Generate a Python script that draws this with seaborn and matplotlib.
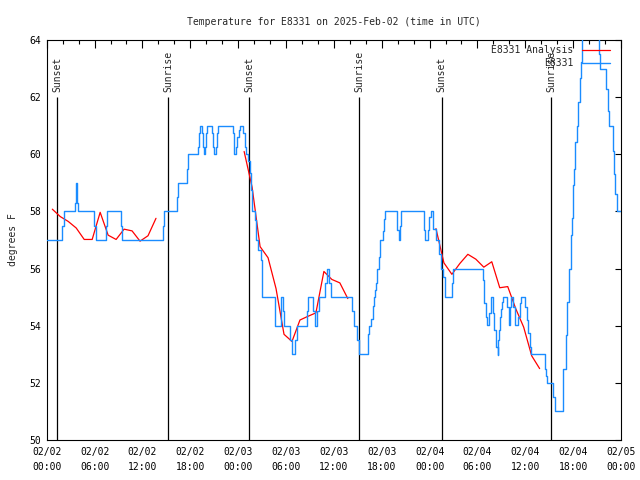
"""Recreate the E8331 temperature chart for 2025-Feb-02 (time in UTC)."""

import matplotlib

matplotlib.use("Agg")
import matplotlib.dates as mdates
import matplotlib.pyplot as plt
import pandas as pd
import seaborn as sns

START = pd.Timestamp("2025-02-02 00:00")
END = pd.Timestamp("2025-02-05 00:00")

# Station observations: hours after START, temperature (F), held until next point.
OBS_HOURS = [
    0.00, 1.96, 2.17, 3.51, 3.64, 3.84, 3.96, 5.93, 6.12, 7.40, 7.56, 9.28, 9.40,
    14.58, 14.74, 16.30, 16.50, 17.55, 17.75, 18.97, 19.09, 19.26, 19.47, 19.63,
    19.76, 19.85, 19.97, 20.06, 20.76, 20.89, 21.01, 21.23, 21.35, 21.51, 23.32,
    23.45, 23.52, 23.70, 23.90, 24.07, 24.23, 24.65, 24.86, 24.99, 25.28, 25.49,
    25.61, 25.78, 26.12, 26.24, 26.53, 26.83, 27.03, 28.62, 29.34, 29.59, 29.79,
    30.50, 30.72, 31.13, 31.38, 32.60, 32.80, 33.39, 33.58, 33.85, 34.08, 34.89,
    35.11, 35.39, 35.61, 38.31, 38.53, 38.84, 39.09, 40.32, 40.45, 40.70, 40.87,
    41.00, 41.12, 41.29, 41.41, 41.63, 41.83, 42.13, 42.33, 42.45, 43.92, 44.13,
    44.30, 44.46, 47.27, 47.47, 47.77, 47.89, 48.18, 48.43, 48.81, 49.22, 49.44,
    49.72, 49.94, 50.78, 50.90, 50.98, 54.74, 54.86, 55.04, 55.24, 55.49, 55.67,
    55.92, 56.08, 56.29, 56.54, 56.62, 56.75, 56.83, 56.96, 57.08, 57.25, 57.75,
    57.92, 58.09, 58.25, 58.50, 58.68, 59.13, 59.34, 59.50, 59.97, 60.18, 60.38,
    60.59, 60.72, 62.47, 62.57, 62.76, 63.51, 63.73, 64.77, 65.11, 65.27, 65.52,
    65.70, 65.90, 66.02, 66.15, 66.24, 66.45, 66.65, 66.86, 66.95, 67.08, 67.24,
    68.99, 69.28, 69.43, 70.08, 70.31, 70.54, 70.96, 71.13, 71.31, 71.46, 72.00,
]
OBS_TEMP = [
    57.0, 57.5, 58.0, 58.3, 59.0, 58.3, 58.0, 57.5, 57.0, 57.5, 58.0, 57.5, 57.0,
    57.5, 58.0, 58.5, 59.0, 59.5, 60.0, 60.27, 60.73, 61.0, 60.73, 60.27,
    60.0, 60.27, 60.73, 61.0, 60.73, 60.27, 60.0, 60.27, 60.73, 61.0, 60.73,
    60.27, 60.0, 60.27, 60.62, 60.85, 61.0, 60.73, 60.27, 60.0, 59.78, 59.33,
    58.75, 58.0, 57.7, 57.0, 56.65, 56.3, 55.0, 54.0, 55.0, 54.5, 54.0,
    53.5, 53.0, 53.5, 54.0, 54.5, 55.0, 54.5, 54.0, 54.5, 55.0, 55.5,
    56.0, 55.5, 55.0, 54.5, 54.0, 53.5, 53.0, 53.7, 54.0, 54.25, 54.7,
    55.0, 55.25, 55.5, 56.0, 56.4, 57.0, 57.3, 57.75, 58.0, 57.35, 57.0,
    57.5, 58.0, 57.35, 57.0, 57.35, 57.8, 58.0, 57.4, 57.0, 56.5, 56.0,
    55.7, 55.0, 55.5, 55.7, 56.0, 55.6, 54.78, 54.32, 54.02, 54.43, 55.0,
    54.43, 53.85, 53.27, 52.97, 53.5, 53.85, 54.32, 54.6, 54.84, 55.0, 54.67,
    54.02, 54.67, 55.0, 54.67, 54.02, 54.32, 54.78, 55.0, 54.67, 54.2, 53.73,
    53.27, 53.0, 52.5, 52.25, 52.0, 51.5, 51.0, 52.5, 53.67, 54.84, 56.0,
    57.17, 57.77, 58.93, 59.5, 60.44, 61.0, 61.84, 62.66, 63.24, 64.5, 65.0,
    64.5, 63.5, 63.0, 62.3, 61.5, 61.0, 60.1, 59.3, 58.6, 58.0, 58.0,
]

# Hourly analysis values, three separate runs.
ANALYSIS_HOURS_1 = [0.7, 1.7, 2.7, 3.7, 4.7, 5.7, 6.7, 7.7, 8.7, 9.7, 10.7, 11.7, 12.7, 13.7]
ANALYSIS_TEMP_1 = [58.08, 57.82, 57.65, 57.42, 57.02, 57.02, 57.97, 57.17, 57.02, 57.38, 57.32, 56.96, 57.15, 57.76]
ANALYSIS_HOURS_2 = [24.75, 25.75, 26.75, 27.75, 28.75, 29.75, 30.75, 31.75, 32.75, 33.75, 34.75, 35.75, 36.75, 37.75]
ANALYSIS_TEMP_2 = [60.1, 58.85, 56.77, 56.38, 55.3, 53.7, 53.45, 54.2, 54.33, 54.45, 55.9, 55.62, 55.5, 54.95]
ANALYSIS_HOURS_3 = [48.8, 49.8, 50.8, 51.8, 52.8, 53.8, 54.8, 55.8, 56.8, 57.8, 58.8, 59.8, 60.8, 61.8]
ANALYSIS_TEMP_3 = [57.4, 56.2, 55.8, 56.18, 56.5, 56.33, 56.05, 56.24, 55.33, 55.37, 54.6, 53.95, 52.95, 52.5]

SUNSET_HOURS = [1.33, 25.40, 49.52]
SUNRISE_HOURS = [15.25, 39.19, 63.23]

Y_MIN, Y_MAX = 50, 64
FONT = ["DejaVu Sans Mono"]
BLUE = "#1a8cff"
RED = "#ff0000"


def to_time(hours):
    """Convert hour offsets from START into timestamps."""
    return START + pd.to_timedelta(pd.Series(hours, dtype=float), unit="h")


def build_frames():
    """Return the observation and analysis data frames."""
    obs = pd.DataFrame({"time": to_time(OBS_HOURS), "temp": OBS_TEMP})
    parts = []
    for seg, (hours, temps) in enumerate(
        [
            (ANALYSIS_HOURS_1, ANALYSIS_TEMP_1),
            (ANALYSIS_HOURS_2, ANALYSIS_TEMP_2),
            (ANALYSIS_HOURS_3, ANALYSIS_TEMP_3),
        ]
    ):
        parts.append(pd.DataFrame({"time": to_time(hours), "temp": temps, "seg": seg}))
    return obs, pd.concat(parts, ignore_index=True)


def main():
    sns.set_style("white")
    plt.rcParams["font.family"] = FONT
    plt.rcParams["font.size"] = 7

    obs, analysis = build_frames()

    fig = plt.figure(figsize=(6.4, 4.8), dpi=100)
    ax = fig.add_axes([0.073, 0.0833, 0.8973, 0.8333])

    for label, hours in (("Sunset", SUNSET_HOURS), ("Sunrise", SUNRISE_HOURS)):
        for t in to_time(hours):
            ax.vlines(t, Y_MIN, 62.0, color="black", linewidth=0.9, zorder=1)
            ax.text(t, 62.18, label, rotation=90, ha="center", va="bottom",
                    fontsize=7, family=FONT)

    sns.lineplot(data=analysis, x="time", y="temp", units="seg", estimator=None,
                 color=RED, linewidth=0.9, legend=False, ax=ax, zorder=2)
    red_line = ax.lines[0]
    sns.lineplot(data=obs, x="time", y="temp", estimator=None, sort=False,
                 drawstyle="steps-post", color=BLUE, linewidth=1.0,
                 legend=False, ax=ax, zorder=3)
    blue_line = ax.lines[-1]

    ax.set_xlim(START, END)
    ax.set_ylim(Y_MIN, Y_MAX)
    ax.set_yticks(range(50, 65, 2))
    ax.xaxis.set_major_locator(mdates.HourLocator(byhour=range(0, 24, 6)))
    ax.xaxis.set_minor_locator(mdates.HourLocator(byhour=range(0, 24, 2)))
    ax.xaxis.set_major_formatter(mdates.DateFormatter("%m/%d\n%H:%M"))
    ax.tick_params(axis="both", which="both", direction="in", top=True, right=True,
                   colors="black", labelsize=7, width=0.8)
    ax.tick_params(axis="x", which="major", length=6, pad=5)
    ax.tick_params(axis="x", which="minor", length=3)
    ax.tick_params(axis="y", which="major", length=4, pad=4)
    for label in ax.get_xticklabels():
        label.set_horizontalalignment("center")
        label.set_linespacing(1.6)
    for spine in ax.spines.values():
        spine.set_color("black")
        spine.set_linewidth(0.8)

    ax.set_xlabel("")
    ax.set_ylabel("degrees F", fontsize=7, labelpad=8)
    ax.set_title("Temperature for E8331 on 2025-Feb-02 (time in UTC)", fontsize=7, pad=11)

    ax.legend([red_line, blue_line], ["E8331 Analysis", "E8331"],
              loc="upper right", bbox_to_anchor=(0.981, 0.9875), frameon=False,
              markerfirst=False, handlelength=2.9, handletextpad=0.9,
              labelspacing=0.3, borderaxespad=0, borderpad=0, fontsize=7)

    fig.savefig("out.png", dpi=100)
    plt.close(fig)


if __name__ == "__main__":
    main()
